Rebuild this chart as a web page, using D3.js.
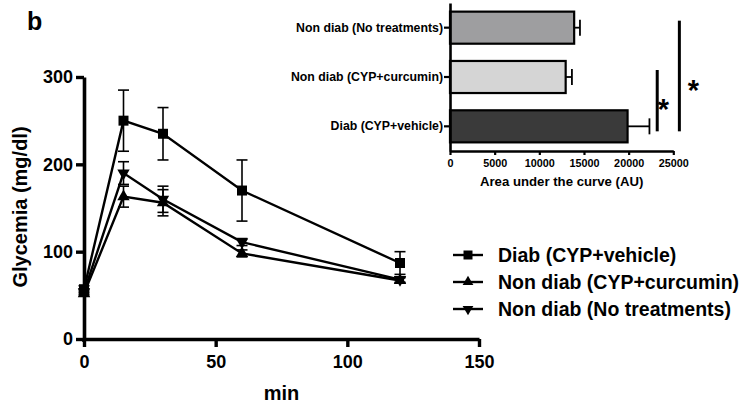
<!DOCTYPE html>
<html>
<head>
<meta charset="utf-8">
<script src="https://cdn.jsdelivr.net/npm/d3@7"></script>
<style>
  body { margin: 0; background: #fff; }
  svg text { font-family: "Liberation Sans", Arial, Helvetica, sans-serif; font-weight: bold; fill: #000; }
</style>
</head>
<body>
<svg id="chart" width="755" height="410"></svg>
<script>
// Glucose tolerance time course (mean ± SEM)
const times = [0, 15, 30, 60, 120];
const seriesNames = ["Diab (CYP+vehicle)", "Non diab (CYP+curcumin)", "Non diab (No treatments)"];
const diabMean = [57, 250, 235, 170, 87];
const diabErr = [4, 35, 30, 35, 13];
const curcuminMean = [52, 163, 156, 98, 67];
const curcuminErr = [3, 12, 15, 4, 3];
const noTreatMean = [54, 190, 160, 111, 68];
const noTreatErr = [3, 13, 15, 4, 3];
const xTicks = [0, 50, 100, 150];
const yTicks = [0, 100, 200, 300];

// Area under the curve inset
const aucGroups = ["Non diab (No treatments)", "Non diab (CYP+curcumin)", "Diab (CYP+vehicle)"];
const aucMean = [13900, 12950, 19880];
const aucErr = [650, 700, 2450];
const aucTicks = [0, 5000, 10000, 15000, 20000, 25000];
const aucFills = ["#9e9ea0", "#d5d5d5", "#3a3a3a"];

const svg = d3.select("#chart");

// ---------- main time-course panel ----------
const x = d3.scaleLinear().domain([0, 150]).range([84, 479]);
const y = d3.scaleLinear().domain([0, 300]).range([339, 77]);

svg.append("text").attr("x", 27).attr("y", 30).style("font-size", "25px").text("b");

const yAxis = svg.append("g").attr("transform", "translate(84,0)")
  .call(d3.axisLeft(y).tickValues(yTicks).tickSize(8).tickSizeOuter(0).tickPadding(3).tickFormat(d3.format("d")));
const xAxis = svg.append("g").attr("transform", "translate(0,339)")
  .call(d3.axisBottom(x).tickValues(xTicks).tickSize(8).tickSizeOuter(0).tickPadding(8).tickFormat(d3.format("d")));
[yAxis, xAxis].forEach(g => {
  g.select(".domain").attr("stroke", "#000").attr("stroke-width", 3.6);
  g.selectAll(".tick line").attr("stroke", "#000").attr("stroke-width", 3.4);
  g.selectAll(".tick text").style("font-size", "18px").attr("font-family", null);
});
// extend the y axis line down through the corner
svg.append("line").attr("x1", 84).attr("x2", 84).attr("y1", y(0)).attr("y2", y(0) + 3)
  .attr("stroke", "#000").attr("stroke-width", 3.6);

svg.append("text").attr("transform", "translate(27,207) rotate(-90)")
  .attr("text-anchor", "middle").style("font-size", "20px").text("Glycemia (mg/dl)");
svg.append("text").attr("x", (x(0) + x(150)) / 2).attr("y", 400)
  .attr("text-anchor", "middle").style("font-size", "20px").text("min");

const symSquare = d3.symbol().type(d3.symbolSquare).size(100);
const symTri = d3.symbol().type(d3.symbolTriangle).size(66);

const series = [
  { name: seriesNames[0], mean: diabMean, err: diabErr, shape: "square" },
  { name: seriesNames[1], mean: curcuminMean, err: curcuminErr, shape: "up" },
  { name: seriesNames[2], mean: noTreatMean, err: noTreatErr, shape: "down" }
];

function markerPath(shape) { return shape === "square" ? symSquare() : symTri(); }
function markerTransform(shape, cx, cy) {
  return shape === "down" ? `translate(${cx},${cy}) rotate(180)` : `translate(${cx},${cy})`;
}

const line = d3.line().x(d => x(d.t)).y(d => y(d.v));

series.slice().reverse().forEach(s => {
  const pts = times.map((t, i) => ({ t, v: s.mean[i], e: s.err[i] }));
  const g = svg.append("g");
  g.append("path").attr("d", line(pts)).attr("fill", "none")
    .attr("stroke", "#000").attr("stroke-width", 2.4);
  pts.forEach(p => {
    const cx = x(p.t), y1 = y(p.v + p.e), y2 = y(p.v - p.e);
    g.append("line").attr("x1", cx).attr("x2", cx).attr("y1", y1).attr("y2", y2)
      .attr("stroke", "#000").attr("stroke-width", 1.6);
    [y1, y2].forEach(yy => g.append("line").attr("x1", cx - 5.5).attr("x2", cx + 5.5)
      .attr("y1", yy).attr("y2", yy).attr("stroke", "#000").attr("stroke-width", 1.6));
  });
  g.selectAll("path.mk").data(pts).enter().append("path").attr("class", "mk")
    .attr("d", markerPath(s.shape))
    .attr("transform", p => markerTransform(s.shape, x(p.t), y(p.v)))
    .attr("fill", "#000");
});

// legend
const legendY = d3.scalePoint().domain(seriesNames).range([255, 309]);
series.forEach(s => {
  const ly = legendY(s.name);
  svg.append("line").attr("x1", 453).attr("x2", 483).attr("y1", ly).attr("y2", ly)
    .attr("stroke", "#000").attr("stroke-width", 2.4);
  svg.append("path").attr("d", s.shape === "square" ? d3.symbol().type(d3.symbolSquare).size(81)() : d3.symbol().type(d3.symbolTriangle).size(50)())
    .attr("transform", markerTransform(s.shape, 468, ly)).attr("fill", "#000");
  svg.append("text").attr("x", 498).attr("y", ly).attr("dy", "0.36em")
    .style("font-size", "19.5px").text(s.name);
});

// ---------- AUC inset ----------
const ax = d3.scaleLinear().domain([0, 25000]).range([450, 673.3]);
const ay = d3.scaleBand().domain(aucGroups).range([3, 151]).paddingInner(0.35).paddingOuter(0.175);

aucGroups.forEach((gname, i) => {
  const top = ay(gname), h = ay.bandwidth(), cy = top + h / 2;
  const xe = ax(aucMean[i] + aucErr[i]);
  svg.append("line").attr("x1", ax(aucMean[i])).attr("x2", xe).attr("y1", cy).attr("y2", cy)
    .attr("stroke", "#000").attr("stroke-width", 1.8);
  svg.append("line").attr("x1", xe).attr("x2", xe).attr("y1", cy - 8).attr("y2", cy + 8)
    .attr("stroke", "#000").attr("stroke-width", 1.8);
  svg.append("rect").attr("x", ax(0)).attr("y", top)
    .attr("width", ax(aucMean[i]) - ax(0)).attr("height", h)
    .attr("fill", aucFills[i]).attr("stroke", "#000").attr("stroke-width", 2.2);
});

const ayAxis = svg.append("g").attr("transform", "translate(450,0)")
  .call(d3.axisLeft(ay).tickSize(6).tickSizeOuter(0).tickPadding(1));
const axAxis = svg.append("g").attr("transform", "translate(0,151)")
  .call(d3.axisBottom(ax).tickValues(aucTicks).tickSize(4).tickSizeOuter(0).tickPadding(4).tickFormat(d3.format("d")));
[ayAxis, axAxis].forEach(g => {
  g.select(".domain").attr("stroke", "#000").attr("stroke-width", 2.6);
  g.selectAll(".tick line").attr("stroke", "#000").attr("stroke-width", 2.2);
  g.selectAll(".tick text").attr("font-family", null);
});
ayAxis.selectAll(".tick text").style("font-size", "12.3px");
axAxis.selectAll(".tick text").style("font-size", "10.8px");

svg.append("text").attr("x", (ax(0) + ax(25000)) / 2).attr("y", 186)
  .attr("text-anchor", "middle").style("font-size", "13.2px").text("Area under the curve (AU)");

// significance markers: Diab vs CYP+curcumin, Diab vs No treatments
const sig = [
  { from: aucGroups[1], to: aucGroups[2], at: 23200, star: [663.3, 101.7] },
  { from: aucGroups[0], to: aucGroups[2], at: 25680, star: [693.3, 82.7] }
];
sig.forEach(s => {
  const y1 = ay(s.from) + ay.bandwidth() / 2 - 7;
  const y2 = ay(s.to) + ay.bandwidth() / 2 + 5;
  svg.append("line").attr("x1", ax(s.at)).attr("x2", ax(s.at)).attr("y1", y1).attr("y2", y2)
    .attr("stroke", "#000").attr("stroke-width", 3);
  svg.append("text").attr("x", s.star[0]).attr("y", s.star[1] + 17)
    .style("font-size", "29px").attr("text-anchor", "middle").text("*");
});
</script>
</body>
</html>
